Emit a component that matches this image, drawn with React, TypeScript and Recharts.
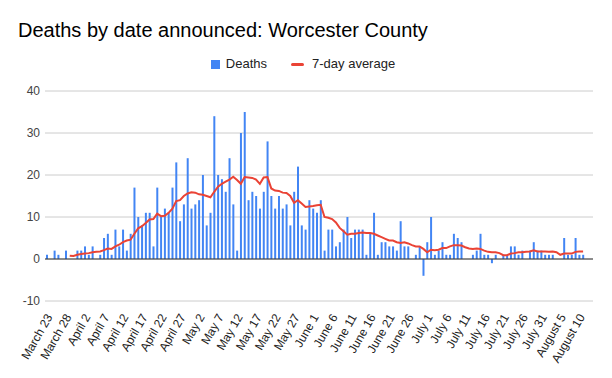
import React from "react";
import {
  Bar,
  CartesianGrid,
  ComposedChart,
  Line,
  ReferenceLine,
  XAxis,
  YAxis,
} from "recharts";

// daily deaths, March 23 .. August 11
const deaths = [
  1, 0, 2, 1, 0, 2, 0, 0, 2, 2,
  3, 1, 3, 0, 1, 5, 6, 1, 7, 3,
  7, 2, 6, 17, 10, 8, 11, 11, 3, 17,
  10, 12, 11, 17, 23, 9, 13, 24, 12, 13,
  14, 20, 8, 11, 34, 20, 19, 16, 24, 13,
  2, 30, 35, 14, 16, 15, 12, 16, 28, 15,
  12, 15, 12, 13, 8, 16, 22, 8, 7, 14,
  12, 11, 14, 2, 7, 7, 3, 4, 7, 10,
  5, 7, 7, 7, 1, 6, 11, 1, 4, 4,
  3, 3, 2, 9, 3, 3, 0, 1, 3, -4,
  4, 10, 1, 2, 4, 1, 1, 6, 5, 4,
  0, 0, 1, 2, 6, 1, 1, -1, 1, 0,
  1, 1, 3, 3, 1, 2, 0, 2, 4, 2,
  2, 1, 1, 1, 0, 0, 5, 1, 1, 5,
  1, 1,
];

// 7-day average
const sevenDay = [
  null, null, null, null, null, null, 0.8, 0.7, 1.0, 1.2,
  1.3, 1.4, 1.6, 1.7, 1.8, 2.1, 2.5, 2.4, 3.0, 3.4,
  4.0, 4.4, 4.6, 6.0, 7.3, 7.8, 8.6, 9.4, 9.5, 10.8,
  10.2, 10.3, 11.0, 12.0, 13.8, 14.0, 15.0, 15.6, 15.9, 15.8,
  15.4, 15.3, 15.0, 14.7, 16.0, 17.2, 17.9, 18.4, 18.9, 19.6,
  18.8, 17.9, 19.5, 19.4, 19.3, 18.9, 17.9, 19.4, 19.5, 16.8,
  16.3, 16.2, 15.8, 15.7, 15.0, 13.4, 14.0, 13.2, 12.4, 12.5,
  12.6, 12.8, 12.9, 10.0, 9.8, 9.5, 8.7, 7.4, 6.6, 5.8,
  6.0, 6.0, 6.2, 6.3, 6.2, 6.2, 6.0, 5.6, 5.2, 4.8,
  4.4, 4.4, 4.0, 3.8, 4.0, 3.7, 3.3, 3.0, 3.0, 2.4,
  1.6, 2.2, 2.1, 2.2, 2.6, 2.6, 3.0, 3.3, 3.3, 3.2,
  2.8, 2.5, 2.4, 2.5, 2.4, 2.0, 1.7, 1.6, 1.6, 1.4,
  0.9, 0.9, 1.3, 1.4, 1.6, 1.6, 1.7, 1.8, 2.1, 1.8,
  1.8, 1.8, 1.7, 1.8, 1.6, 1.0, 1.3, 1.3, 1.3, 1.7,
  1.8, 1.8,
];

const months = ["March", "April", "May", "June", "July", "August"];
const monthDays = [31, 30, 31, 30, 31, 31];
const yTicks = [-10, 0, 10, 20, 30, 40];

// consecutive day labels starting at March 23
const dates: string[] = [];
let m = 0;
let d = 23;
for (let i = 0; i < deaths.length; i++) {
  dates.push(`${months[m]} ${d}`);
  d++;
  if (d > monthDays[m]) {
    d = 1;
    m++;
  }
}

const data = dates.map((date, i) => ({
  date,
  deaths: deaths[i],
  avg: sevenDay[i],
}));

const font = "Arial, 'Liberation Sans', sans-serif";

const DateTick = (props: any) => {
  const { x, y, payload } = props;
  return (
    <g transform={`translate(${x + 6},${y + 8})`}>
      <text
        transform="rotate(-60)"
        textAnchor="end"
        fontSize={12}
        fill="#222"
        fontFamily={font}
      >
        {payload.value}
      </text>
    </g>
  );
};

export default function App() {
  return (
    <div
      style={{
        position: "absolute",
        left: 0,
        top: 0,
        width: 612,
        height: 378,
        background: "#fff",
        fontFamily: font,
      }}
    >
      <div
        style={{
          position: "absolute",
          left: 18,
          top: 20,
          fontSize: 20,
          lineHeight: "20px",
          color: "#000",
          whiteSpace: "nowrap",
        }}
      >
        Deaths by date announced: Worcester County
      </div>

      {/* legend */}
      <div
        style={{
          position: "absolute",
          left: 0,
          width: 606,
          top: 56,
          display: "flex",
          justifyContent: "center",
          alignItems: "center",
          fontSize: 13,
          color: "#222",
          lineHeight: "16px",
        }}
      >
        <span
          style={{ width: 9, height: 9, background: "#4285f4", marginRight: 6, display: "inline-block" }}
        />
        <span>Deaths</span>
        <span
          style={{
            width: 13,
            height: 3,
            background: "#ea4335",
            borderRadius: 2,
            margin: "0 8px 0 24px",
            display: "inline-block",
          }}
        />
        <span>7-day average</span>
      </div>

      <ComposedChart
        width={612}
        height={378}
        data={data}
        margin={{ top: 91, right: 19, bottom: 0, left: 0 }}
      >
        <CartesianGrid vertical={false} stroke="#cccccc" />
        <XAxis
          dataKey="date"
          interval={4}
          axisLine={false}
          tickLine={false}
          height={77}
          tick={<DateTick />}
          padding={{ left: 0, right: 8 }}
        />
        <YAxis
          domain={[-10, 40]}
          ticks={yTicks}
          width={45}
          axisLine={false}
          tickLine={false}
          tickSize={0}
          tickMargin={5}
          tick={{ fontSize: 12, fill: "#444", fontFamily: font }}
        />
        <ReferenceLine y={0} stroke="#333" />
        <Bar dataKey="deaths" fill="#4285f4" barSize={2} isAnimationActive={false} />
        <Line
          dataKey="avg"
          stroke="#ea4335"
          strokeWidth={2}
          dot={false}
          type="linear"
          isAnimationActive={false}
        />
      </ComposedChart>
    </div>
  );
}
